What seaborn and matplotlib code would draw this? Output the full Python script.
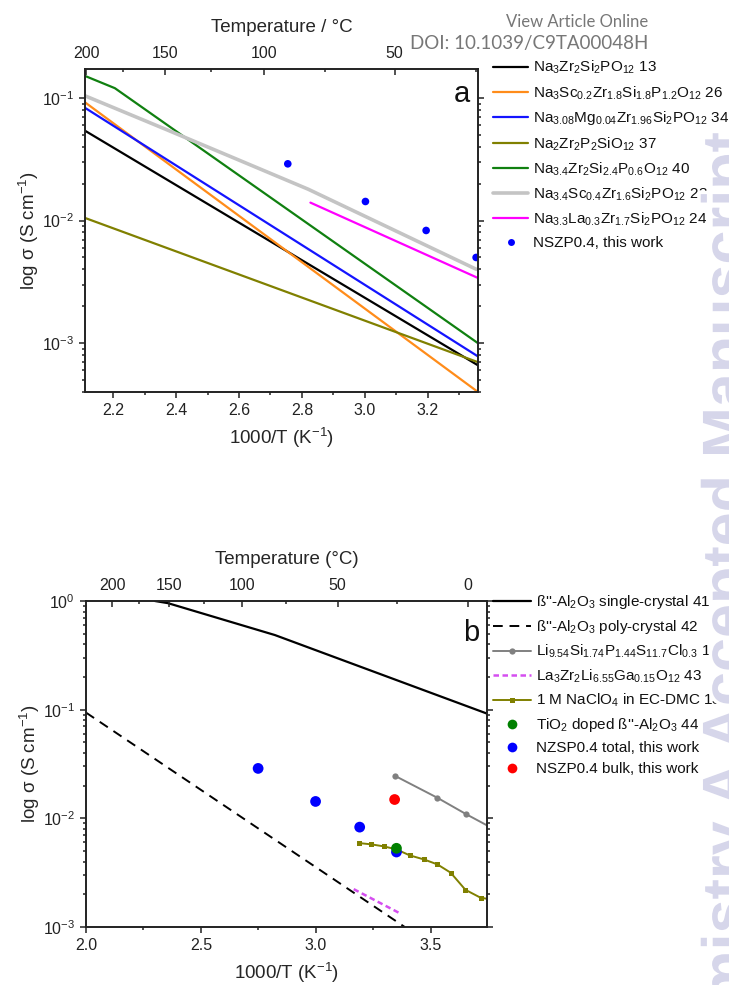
import numpy as np
import pandas as pd
import matplotlib
matplotlib.use("Agg")
import matplotlib.pyplot as plt
import seaborn as sns
from matplotlib import patheffects
from matplotlib.lines import Line2D
from matplotlib.ticker import LogLocator, NullFormatter, MultipleLocator

# ---------------- data: panel a ----------------
a_x_13 = [2.11, 3.36]
a_y_13 = [0.054, 6.6e-4]
a_x_26 = [2.11, 3.36]
a_y_26 = [0.092, 4.0e-4]
a_x_34 = [2.11, 3.36]
a_y_34 = [0.083, 7.8e-4]
a_x_37 = [2.11, 3.36]
a_y_37 = [0.0105, 7.0e-4]
a_x_40 = [2.11, 2.205, 3.36]
a_y_40 = [0.151, 0.12, 1.0e-3]
a_x_23 = [2.11, 2.37, 2.82, 3.355]
a_y_23 = [0.104, 0.055, 0.018, 0.0040]
a_x_24 = [2.827, 3.36]
a_y_24 = [0.014, 0.0034]
a_x_nszp = [2.755, 3.002, 3.195, 3.354]
a_y_nszp = [0.029, 0.0143, 0.0083, 0.0050]

a_labels = [
    r'Na$_3$Zr$_2$Si$_2$PO$_{12}$ 13',
    r'Na$_3$Sc$_{0.2}$Zr$_{1.8}$Si$_{1.8}$P$_{1.2}$O$_{12}$ 26',
    r'Na$_{3.08}$Mg$_{0.04}$Zr$_{1.96}$Si$_2$PO$_{12}$ 34',
    r'Na$_2$Zr$_2$P$_2$SiO$_{12}$ 37',
    r'Na$_{3.4}$Zr$_2$Si$_{2.4}$P$_{0.6}$O$_{12}$ 40',
    r'Na$_{3.4}$Sc$_{0.4}$Zr$_{1.6}$Si$_2$PO$_{12}$ 23',
    r'Na$_{3.3}$La$_{0.3}$Zr$_{1.7}$Si$_2$PO$_{12}$ 24',
    'NSZP0.4, this work',
]
a_temp_major = [200, 150, 100, 50]
a_temp_minor = [175, 125, 75, 25]

# ---------------- data: panel b ----------------
b_x_single = [2.30, 2.357, 2.822, 3.745]
b_y_single = [1.0, 0.955, 0.486, 0.092]
b_x_poly = [2.0, 3.387]
b_y_poly = [0.094, 1.0e-3]
b_x_li = [3.343, 3.528, 3.655, 3.83]
b_y_li = [0.0247, 0.0155, 0.0109, 0.0069]
b_x_la = [3.165, 3.365]
b_y_la = [0.00223, 0.00134]
b_x_naclo4 = [3.188, 3.242, 3.296, 3.351, 3.409, 3.470, 3.529, 3.587, 3.651, 3.717, 3.78]
b_y_naclo4 = [0.00592, 0.00576, 0.00552, 0.00518, 0.00456, 0.00419, 0.00377,
              0.00316, 0.00220, 0.00186, 0.00177]
b_x_tio2 = [3.351]
b_y_tio2 = [0.0053]
b_x_total = [2.749, 2.999, 3.191, 3.351]
b_y_total = [0.0288, 0.0143, 0.0083, 0.0049]
b_x_bulk = [3.343]
b_y_bulk = [0.0149]

b_labels = [
    r"ß''-Al$_2$O$_3$ single-crystal 41",
    r"ß''-Al$_2$O$_3$ poly-crystal 42",
    r'Li$_{9.54}$Si$_{1.74}$P$_{1.44}$S$_{11.7}$Cl$_{0.3}$ 11',
    r'La$_3$Zr$_2$Li$_{6.55}$Ga$_{0.15}$O$_{12}$ 43',
    r'1 M NaClO$_4$ in EC-DMC 13',
    r"TiO$_2$ doped ß''-Al$_2$O$_3$ 44",
    'NZSP0.4 total, this work',
    'NSZP0.4 bulk, this work',
]
b_temp_major = [200, 150, 100, 50, 0]
b_temp_minor = [175, 125, 75, 25]

# ---------------- style ----------------
sns.set_style("ticks")
plt.rcParams['font.family'] = ['Liberation Sans', 'DejaVu Sans']
plt.rcParams['mathtext.fontset'] = 'custom'
plt.rcParams['mathtext.rm'] = 'Liberation Sans'
plt.rcParams['mathtext.it'] = 'Liberation Sans:italic'
plt.rcParams['mathtext.bf'] = 'Liberation Sans:bold'
plt.rcParams['axes.edgecolor'] = '#222222'
plt.rcParams['xtick.color'] = '#222222'
plt.rcParams['ytick.color'] = '#222222'
plt.rcParams['text.color'] = '#111111'

TICK_FS = 11.5
LAB_FS = 13.5
LEG_FS = 11

fig = plt.figure(figsize=(7.29, 9.85), dpi=100)
axA = fig.add_axes([85 / 729, 1 - 392 / 985, 393 / 729, 323 / 985])
axB = fig.add_axes([86 / 729, 1 - 927 / 985, 401 / 729, 326 / 985])

C_BLACK = '#000000'
C_ORANGE = '#ff8c1a'
C_BLUE = '#1414ff'
C_OLIVE = '#808000'
C_GREEN = '#108010'
C_GREY = '#c4c4c4'
C_MAG = '#ff00ff'


def line(ax, x, y, **kw):
    sns.lineplot(x=x, y=y, ax=ax, legend=False, sort=False, estimator=None, **kw)


# ---------------- panel a ----------------
line(axA, a_x_13, a_y_13, color=C_BLACK, lw=1.6)
line(axA, a_x_26, a_y_26, color=C_ORANGE, lw=1.6)
line(axA, a_x_34, a_y_34, color=C_BLUE, lw=1.6)
line(axA, a_x_37, a_y_37, color=C_OLIVE, lw=1.6)
line(axA, a_x_40, a_y_40, color=C_GREEN, lw=1.6)
line(axA, a_x_23, a_y_23, color=C_GREY, lw=2.6)
line(axA, a_x_24, a_y_24, color=C_MAG, lw=1.6)
sns.scatterplot(x=a_x_nszp, y=a_y_nszp, ax=axA, color='#0000ff', s=30,
                edgecolor='none', legend=False, zorder=5)

axA.set_yscale('log')
axA.set_xlim(2.11, 3.36)
axA.set_ylim(4.0e-4, 0.172)
axA.xaxis.set_major_locator(MultipleLocator(0.2))
axA.xaxis.set_minor_locator(MultipleLocator(0.1))

# ---------------- panel b ----------------
line(axB, b_x_single, b_y_single, color=C_BLACK, lw=1.6)
line(axB, b_x_poly, b_y_poly, color=C_BLACK, lw=1.4, dashes=(5, 3.5))
line(axB, b_x_li, b_y_li, color='#808080', lw=1.4, marker='o', markersize=4.5,
     markeredgewidth=0)
line(axB, b_x_la, b_y_la, color='#d54ef0', lw=1.8, dashes=(2.2, 1.4))
line(axB, b_x_naclo4, b_y_naclo4, color=C_OLIVE, lw=1.4, marker='s', markersize=3.6,
     markeredgewidth=0)
sns.scatterplot(x=b_x_total, y=b_y_total, ax=axB, color='#0000ff', s=60,
                edgecolor='none', legend=False, zorder=5)
sns.scatterplot(x=b_x_tio2, y=b_y_tio2, ax=axB, color='#008000', s=60,
                edgecolor='none', legend=False, zorder=6)
sns.scatterplot(x=b_x_bulk, y=b_y_bulk, ax=axB, color='#ff0000', s=60,
                edgecolor='none', legend=False, zorder=6)

axB.set_yscale('log')
axB.set_xlim(2.0, 3.745)
axB.set_ylim(1e-3, 1.0)
axB.xaxis.set_major_locator(MultipleLocator(0.5))
axB.xaxis.set_minor_locator(MultipleLocator(0.25))

# ---------------- common axis styling ----------------
for ax, temps_major, temps_minor, tlabel in [
        (axA, a_temp_major, a_temp_minor, 'Temperature / °C'),
        (axB, b_temp_major, b_temp_minor, 'Temperature (°C)')]:
    for s in ax.spines.values():
        s.set_linewidth(1.2)
        s.set_visible(True)
    ax.yaxis.set_major_locator(LogLocator(base=10, numticks=10))
    ax.yaxis.set_minor_locator(LogLocator(base=10, subs=np.arange(2, 10), numticks=100))
    ax.yaxis.set_minor_formatter(NullFormatter())
    ax.tick_params(which='both', direction='out', left=True, right=True,
                   bottom=True, top=False, labelsize=TICK_FS, width=1.1)
    ax.tick_params(which='major', length=4.5, pad=3.5)
    ax.tick_params(which='minor', length=2.5)
    ax.set_xlabel('1000/T (K$^{-1}$)', fontsize=LAB_FS, labelpad=5.5)
    ax.set_ylabel('log σ (S cm$^{-1}$)', fontsize=LAB_FS, labelpad=0.5)

    tw = ax.twiny()
    tw.set_xlim(ax.get_xlim())
    tw.set_xticks([1000.0 / (t + 273.15) for t in temps_major])
    tw.set_xticklabels([str(t) for t in temps_major])
    tw.set_xticks([1000.0 / (t + 273.15) for t in temps_minor], minor=True)
    tw.tick_params(which='both', direction='in', labelsize=TICK_FS, width=1.1)
    tw.tick_params(which='major', length=4.5, pad=6)
    tw.tick_params(which='minor', length=2.5)
    tw.set_xlabel(tlabel, fontsize=LAB_FS, labelpad=10)
    for s in tw.spines.values():
        s.set_linewidth(1.2)

axA.text(0.959, 0.923, 'a', transform=axA.transAxes, fontsize=21,
         ha='center', va='center')
axB.text(0.96, 0.902, 'b', transform=axB.transAxes, fontsize=21,
         ha='center', va='center')

# ---------------- legends ----------------
hA = [
    Line2D([], [], color=C_BLACK, lw=1.6),
    Line2D([], [], color=C_ORANGE, lw=1.6),
    Line2D([], [], color=C_BLUE, lw=1.6),
    Line2D([], [], color=C_OLIVE, lw=1.6),
    Line2D([], [], color=C_GREEN, lw=1.6),
    Line2D([], [], color=C_GREY, lw=2.6),
    Line2D([], [], color=C_MAG, lw=1.6),
    Line2D([], [], color='#0000ff', lw=0, marker='o', markersize=5, markeredgewidth=0),
]
fig.legend(hA, a_labels, loc='upper left', bbox_to_anchor=(493 / 729, 1 - 59 / 985),
           frameon=False, fontsize=LEG_FS, handlelength=2.3, handletextpad=0.3,
           labelspacing=0.51, borderpad=0, borderaxespad=0)

hB = [
    Line2D([], [], color=C_BLACK, lw=1.6),
    Line2D([], [], color=C_BLACK, lw=1.4, dashes=(5, 3.5)),
    Line2D([], [], color='#808080', lw=1.4, marker='o', markersize=4.5, markeredgewidth=0),
    Line2D([], [], color='#d54ef0', lw=1.8, dashes=(2.2, 1.4)),
    Line2D([], [], color=C_OLIVE, lw=1.4, marker='s', markersize=3.6, markeredgewidth=0),
    Line2D([], [], color='#008000', lw=0, marker='o', markersize=7, markeredgewidth=0),
    Line2D([], [], color='#0000ff', lw=0, marker='o', markersize=7, markeredgewidth=0),
    Line2D([], [], color='#ff0000', lw=0, marker='o', markersize=7, markeredgewidth=0),
]
fig.legend(hB, b_labels, loc='upper left', bbox_to_anchor=(493 / 729, 1 - 593 / 985),
           frameon=False, fontsize=LEG_FS, handlelength=2.5, handletextpad=0.3,
           labelspacing=0.46, borderpad=0, borderaxespad=0)

# ---------------- header & watermark ----------------
fig.text(648 / 729, 1 - 22 / 985, 'View Article Online', ha='right', va='center',
         fontsize=12, color='#777777', family=['Lato', 'DejaVu Sans'])
fig.text(648 / 729, 1 - 44 / 985, 'DOI: 10.1039/C9TA00048H', ha='right', va='center',
         fontsize=13.5, color='#777777', family=['Lato', 'DejaVu Sans'])

fig.text(701 / 729, 1 - 132 / 985,
         'Journal of Materials Chemistry A Accepted Manuscript',
         rotation=90, ha='left', va='top', fontsize=44, fontweight='bold',
         color='#d6d6ea', family=['Liberation Sans', 'DejaVu Sans'], zorder=10,
         path_effects=[patheffects.withStroke(linewidth=5, foreground='white')])

fig.savefig('out.png', dpi=100)
